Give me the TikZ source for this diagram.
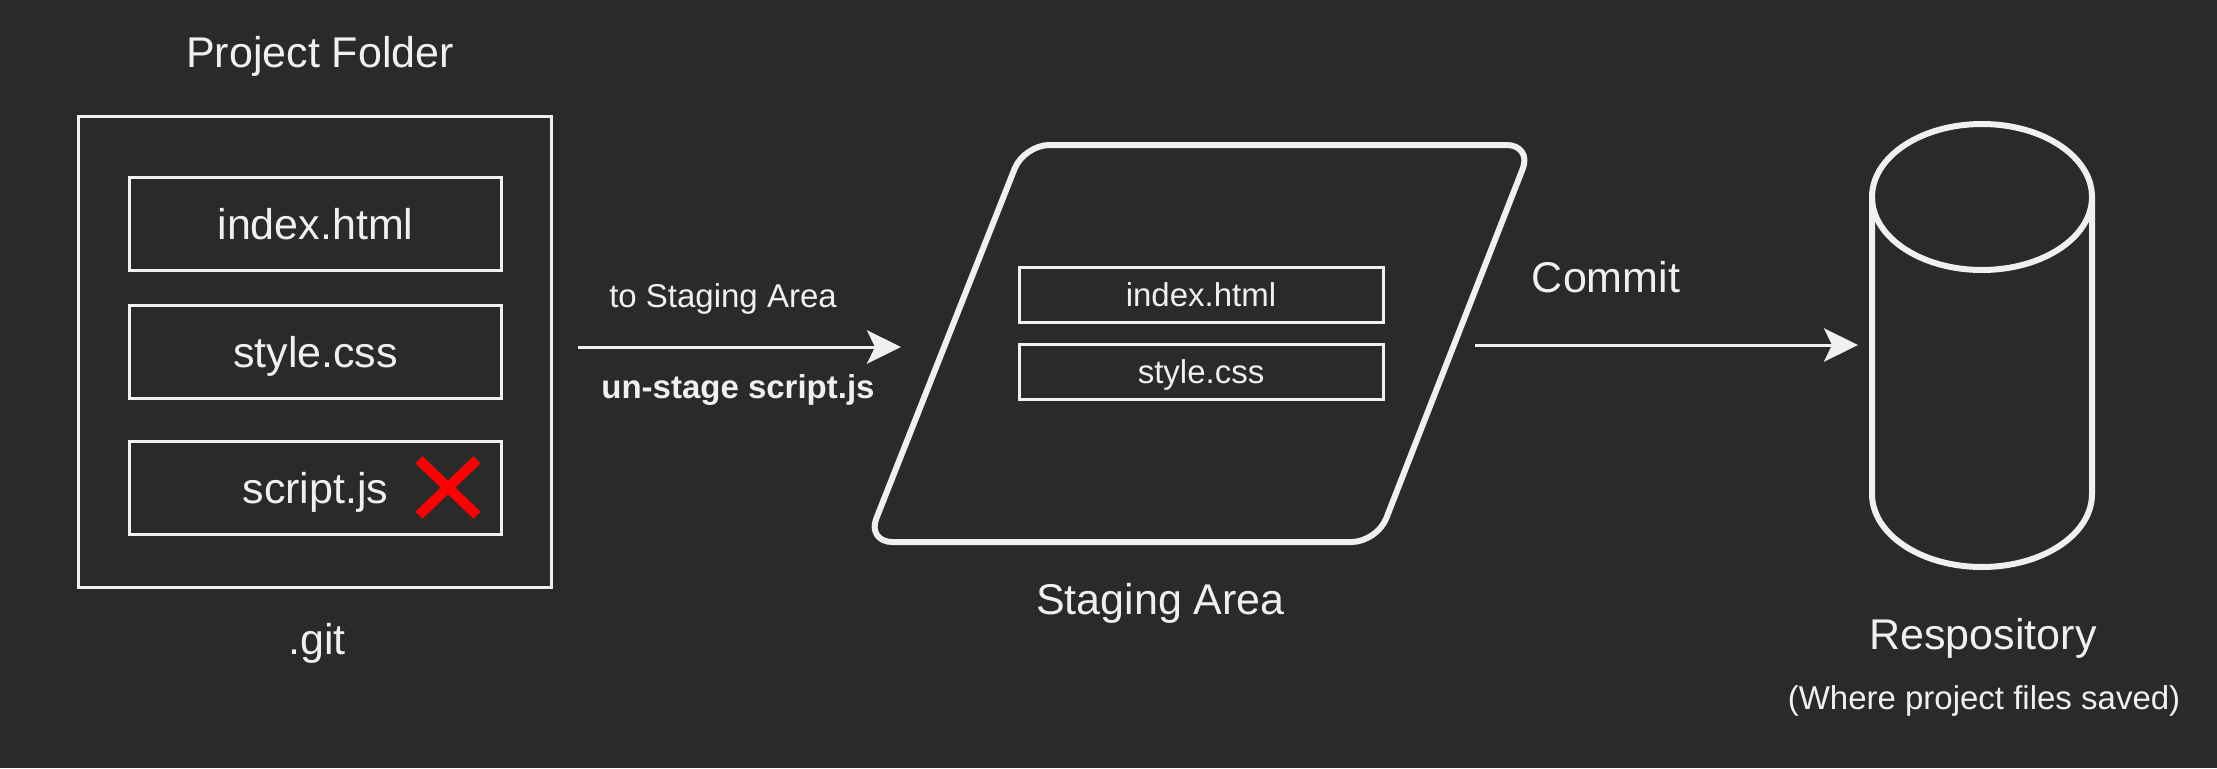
\documentclass[tikz,border=0pt]{standalone}
\usepackage{fontspec}
\setmainfont{Liberation Sans}
\usetikzlibrary{arrows.meta,positioning,shapes.misc}

\definecolor{bgcol}{HTML}{2A2A2A}
\definecolor{ink}{HTML}{F0F0F0}
\definecolor{nored}{HTML}{FF0000}

\tikzset{
  bigtxt/.style={font=\fontsize{32.25pt}{38pt}\selectfont},
  smalltxt/.style={font=\fontsize{24.75pt}{30pt}\selectfont},
  caption/.style={bigtxt, text=ink, anchor=base, inner sep=0},
  folderbox/.style={draw=ink, line width=2.25pt, minimum width=354.75pt, minimum height=353.25pt},
  filebox/.style={draw=ink, line width=2.25pt, minimum width=279pt, minimum height=69.75pt,
    inner sep=0, bigtxt, text=ink, text height=23.25pt, text depth=0pt},
  stagedfile/.style={draw=ink, line width=2.25pt, minimum width=273pt, minimum height=41.25pt,
    inner sep=0, smalltxt, text=ink, text height=17.7pt, text depth=0pt},
  stageline/.style={draw=ink, line width=4.5pt, rounded corners=19pt},
  repoline/.style={draw=ink, line width=4.5pt},
  flow/.style={draw=ink, line width=2.25pt, -{Stealth[length=25.5pt, width=25pt, inset=6pt]}},
}

\begin{document}
\begin{tikzpicture}[x=0.75pt,y=-0.75pt]
  \fill[bgcol] (0,0) rectangle (2217,768);

  % project folder
  \node[folderbox] (folder) at (315,352) {};
  \node[filebox] (fhtml) at (315.5,224) {index.html};
  \node[filebox] (fcss) at (315.5,352) {style.css};
  \node[filebox] (fjs) at (315.5,488) {script.js};
  \node[cross out, draw=nored, line width=7.5pt, minimum width=36pt, minimum height=34pt, inner sep=0] (nojs) at (448,487.5) {};
  \node[caption] (foldername) at (320,67) {Project Folder};
  \node[caption] (gitname) at (317,654) {.git};

  % staging area
  \draw[stageline] (867,542) -- (1024,145) -- (1532,145) -- (1377,542) -- cycle;
  \coordinate (stagein) at (901,347);
  \coordinate (stageout) at (1475,345);
  \node[stagedfile] (shtml) at (1201,295) {index.html};
  \node[stagedfile] (scss) at (1201,372) {style.css};
  \node[caption] (stagename) at (1160.5,614) {Staging Area};

  % repository
  \draw[repoline] (1872,197) -- (1872,494) arc[start angle=180, end angle=360, x radius=82.5pt, y radius=54.75pt] -- (2092,197);
  \draw[repoline] (1982,197) ellipse [x radius=82.5pt, y radius=54.75pt];
  \coordinate (repoin) at (1858,345);
  \node[caption] (reponame) at (1983,649) {Respository};
  \node[caption, smalltxt] (reponote) at (1984,709) {(Where project files saved)};

  % arrows
  \draw[flow, shorten <=18.75pt] (folder.east |- stagein) -- (stagein);
  \node[caption, smalltxt] (tostage) at (723,307) {to Staging Area};
  \node[caption, smalltxt] (unstage) at (738,398) {\bfseries un-stage script.js};
  \draw[flow] (stageout) -- (repoin);
  \node[caption] (commit) at (1606,292) {Commit};
\end{tikzpicture}
\end{document}
